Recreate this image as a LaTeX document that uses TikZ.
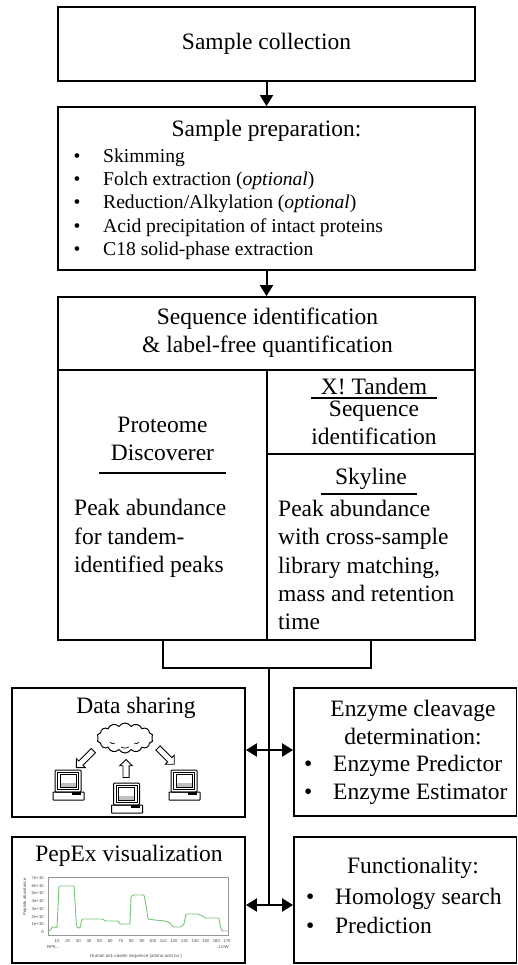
\documentclass[tikz,border=0pt]{standalone}
\usepackage{fontspec}
\setmainfont{Liberation Serif}
\newfontfamily\chartfont{Liberation Sans}
\usetikzlibrary{arrows.meta,shapes.symbols,shapes.arrows}

\newcommand\bigtxt{\fontsize{23.5}{28.4}\selectfont}
\newcommand\listtxt{\fontsize{19.6}{23.3}\selectfont}
\newcommand\bul[1]{\makebox[#1][l]{\textbullet}}

\definecolor{plotgreen}{RGB}{120,196,120}
\definecolor{plotgrey}{RGB}{150,150,150}

\tikzset{
  frame/.style={draw, line width=1.8pt, inner sep=0pt},
  label/.style={font=\bigtxt, inner sep=0pt, align=center},
  listing/.style={font=\bigtxt, inner sep=0pt, align=left, anchor=west},
  conn/.style={line width=2pt},
  flow/.style={conn, -{Triangle[width=13pt,length=11pt]}},
  both/.style={conn, {Triangle[width=13pt,length=11pt]}-{Triangle[width=13pt,length=11pt]}},
  uline/.style={line width=1.3pt},
  blockarrow/.style={single arrow, draw, line width=0.9pt, inner xsep=0pt, inner ysep=2.6pt,
    single arrow head extend=3.2pt, single arrow head indent=0pt},
  ticklab/.style={font=\chartfont\fontsize{4.3}{4.3}\selectfont, text=black!70, inner sep=0pt},
  computer/.pic={
    \draw[line width=1pt, rounded corners=1pt] (-13,0) rectangle (13,22);
    \draw[line width=0.6pt] (-10.5,2.5) rectangle (10.5,19.5);
    \fill[black!25] (-8,13) rectangle (8,17);
    \draw[line width=0.6pt] (-8,4.5) rectangle (8,17);
    \draw[line width=1pt, rounded corners=0.5pt] (-15,22) rectangle (16,30);
    \fill (4,22) rectangle (13,24.5);
  }
}

\begin{document}
\begin{tikzpicture}[x=1pt,y=-1pt]
\useasboundingbox (0,0) rectangle (518,965);
\fill[white] (0,0) rectangle (518,965);

% --- top of the workflow ---
\node[frame, font=\bigtxt, minimum width=417pt, minimum height=74pt] (collect) at (266.5,44) {Sample collection};

\node[frame, minimum width=417pt, minimum height=163pt] (prep) at (266.5,188.5) {};
\node[label] (preptitle) at (266.5,131) {Sample preparation:};
\node[listing, font=\listtxt] (preplist) at (73.5,204) {%
  \bul{29.5pt}Skimming\\
  \bul{29.5pt}Folch extraction (\textit{optional})\\
  \bul{29.5pt}Reduction/Alkylation (\textit{optional})\\
  \bul{29.5pt}Acid precipitation of intact proteins\\
  \bul{29.5pt}C18 solid-phase extraction};

\draw[flow] (collect.south) -- (prep.north);

% --- identification and quantification block ---
\node[frame, minimum width=417pt, minimum height=73pt] (seq) at (266.5,333.5) {};
\node[label] (seqtitle) at (267.5,333) {Sequence identification\\\& label-free quantification};
\draw[flow] (prep.south) -- (seq.north);

\node[frame, minimum width=209pt, minimum height=270pt] (pd) at (162.5,505) {};
\node[frame, minimum width=208pt, minimum height=84pt] (xt) at (371,412) {};
\node[frame, minimum width=208pt, minimum height=186pt] (sky) at (371,547) {};

\node[label] (pdname) at (162.5,439) {Proteome\\Discoverer};
\draw[uline] (99,473) -- (226,473);
\node[listing] (pdbody) at (74,538.5) {Peak abundance\\for tandem-\\identified peaks};

\node[label] (xtname) at (374,387) {X! Tandem};
\draw[uline] (311,398) -- (437,398);
\node[label] (xtbody) at (374,423) {Sequence\\identification};

\node[label] (skyname) at (371,479) {Skyline};
\draw[uline] (321,494) -- (417,494);
\node[listing] (skybody) at (278,565) {Peak abundance\\with cross-sample\\library matching,\\mass and retention\\time};

% --- branching to the downstream tools ---
\coordinate (hub) at (269,668);
\coordinate (a1) at (269,750);
\coordinate (a2) at (269,905);
\draw[conn] (pd.south) |- (hub) -| (sky.south);
\draw[conn] (hub) -- (a2);

\node[frame, minimum width=233pt, minimum height=129pt] (share) at (128.5,752.5) {};
\node[frame, minimum width=222.5pt, minimum height=128pt] (enz) at (405.25,752) {};
\node[frame, minimum width=233pt, minimum height=126pt] (pepex) at (128.5,900) {};
\node[frame, minimum width=222.5pt, minimum height=126pt] (func) at (405.25,900) {};

\draw[both] (a1 -| share.east) -- (a1 -| enz.west);
\draw[both] (a2 -| pepex.east) -- (a2 -| func.west);

% --- data sharing ---
\node[label] (sharetitle) at (136,708) {Data sharing};
\node[cloud, draw, line width=1pt, cloud puffs=14, cloud puff arc=120, aspect=1.9,
      minimum width=56pt, minimum height=30pt, inner sep=0pt] (cloud) at (125,738) {};
\draw[line width=0.7pt] (110,742) .. controls (112,744) .. (115,743);
\draw[line width=0.7pt] (121,747) .. controls (125,748.5) .. (129,747);
\draw[line width=0.7pt] (134,743) .. controls (137,744) .. (139,742);
\node[blockarrow, minimum height=24pt, rotate=225] (arrL) at (86,758) {};
\node[blockarrow, minimum height=18pt, rotate=90] (arrM) at (126,770) {};
\node[blockarrow, minimum height=23pt, rotate=-45] (arrR) at (165,755) {};
\pic at (68,770) {computer};
\pic at (126.5,783) {computer};
\pic at (184,770) {computer};

% --- enzyme cleavage ---
\node[label] (enztitle) at (413,722.5) {Enzyme cleavage\\determination:};
\node[listing] (enzlist) at (304,780) {\bul{29pt}Enzyme Predictor\\\bul{29pt}Enzyme Estimator};

% --- functionality ---
\node[label] (functitle) at (413,868) {Functionality:};
\node[listing] (funclist) at (306,911) {\bul{29pt}Homology search\\\bul{29pt}Prediction};

% --- PepEx visualization ---
\node[label] (pepextitle) at (129,856) {PepEx visualization};
\draw[plotgrey, line width=0.5pt] (48,877) rectangle (228,935);
\foreach \v/\t in {0/0,1/1e+10,2/2e+10,3/3e+10,4/4e+10,5/5e+10,6/6e+10,7/7e+10}
  \node[ticklab, anchor=east] at (44,932-7.7*\v) {\t};
\foreach \n in {10,20,...,170}
  \node[ticklab] at (46.4+1.0625*\n,941) {\n};
\node[ticklab, rotate=90] (ytitle) at (25,897) {Peptide abundance};
\node[ticklab, anchor=west] (nterm) at (47,947) {RPK...};
\node[ticklab, anchor=east] (cterm) at (229,947) {...LOW};
\node[ticklab, font=\chartfont\fontsize{4.5}{4.5}\selectfont] (xtitle) at (136,956) {Human αs1-casein sequence (amino acid no.)};
\draw[plotgreen, line width=0.9pt, rounded corners=0.8pt]
  (48,931) -- (51,930) -- (52,927) -- (55,927) -- (57,928) -- (59,886) -- (74,886)
  -- (75.5,910) -- (76.5,926) -- (78,928) -- (80,928) -- (82,919) -- (103,919)
  -- (105,921) -- (118,921) -- (120,924) -- (130,924) -- (131,897) -- (133,895)
  -- (144,895) -- (146,905) -- (148,919) -- (155,920) -- (165,921) -- (170,923)
  -- (173,927) -- (181,927) -- (184,924) -- (186,914) -- (198,914) -- (203,916)
  -- (205,918) -- (219,918) -- (220,925) -- (222,931) -- (228,931);
\end{tikzpicture}
\end{document}
